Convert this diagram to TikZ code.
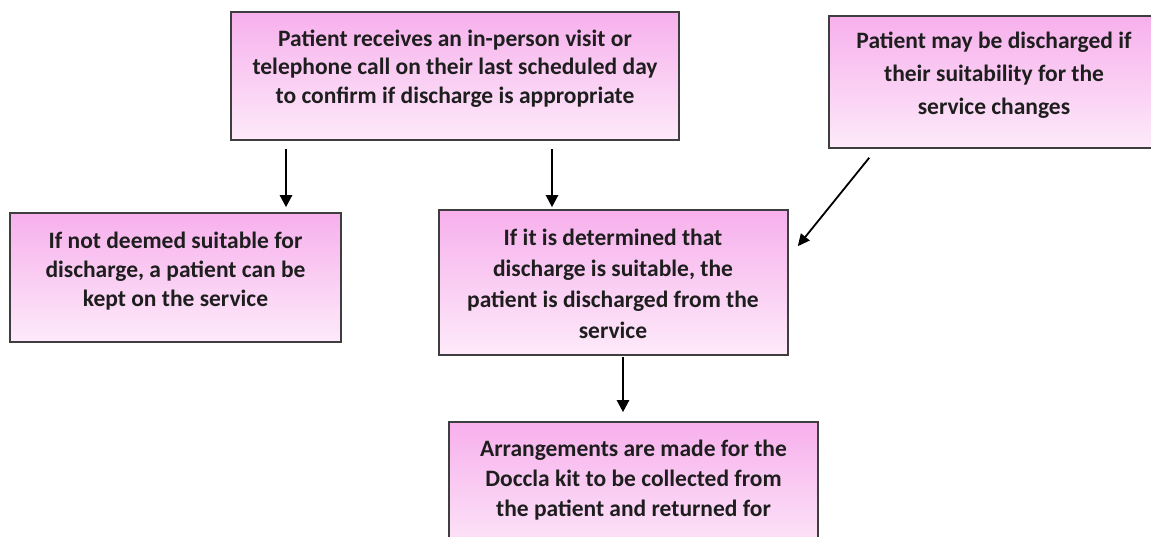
\documentclass[tikz,border=0pt]{standalone}
\usepackage{fontspec}
\setmainfont{Carlito}
\usetikzlibrary{arrows.meta,calc}
\definecolor{boxtop}{RGB}{247,176,236}
\definecolor{boxbottom}{RGB}{253,234,250}
\definecolor{boxline}{RGB}{62,62,62}
\definecolor{ink}{RGB}{30,30,30}
\tikzset{
  box/.style={draw=boxline, line width=1.6pt, top color=boxtop, bottom color=boxbottom,
    rectangle, inner sep=0pt},
  txt/.style={align=center, text=ink, inner sep=0pt,
    font=\fontsize{23.5}{29}\selectfont\bfseries},
  arr/.style={draw=black, line width=2.3pt, -{Triangle[width=12pt,length=12pt]}},
  thinarr/.style={draw=black, line width=1.8pt, -{Triangle[width=11pt,length=12pt]}}
}
\begin{document}
\begin{tikzpicture}[x=1pt, y=-1pt]
  \useasboundingbox (0,0) rectangle (1151,537);

  % boxes
  \node[box, minimum width=448pt, minimum height=128pt] (b1) at (455,76) {};
  \node[box, minimum width=331pt, minimum height=132pt] (b2) at (994.5,82) {};
  \node[box, minimum width=331pt, minimum height=129pt] (b3) at (175.5,277.5) {};
  \node[box, minimum width=349pt, minimum height=145pt] (b4) at (613.5,282.5) {};
  \node[box, minimum width=369pt, minimum height=138pt] (b5) at (633.5,491) {};

  % texts
  \node[txt, font=\fontsize{23.5}{28.5}\selectfont\bfseries] (t1) at (455,68.5)
    {Patient receives an in-person visit or\\
    telephone call on their last scheduled day\\ to confirm if discharge is appropriate};
  \node[txt, font=\fontsize{23.5}{33}\selectfont\bfseries] (t2) at (994,75)
    {Patient may be discharged if\\ their suitability for the\\ service changes};
  \node[txt] (t3) at (175.5,271) {If not deemed suitable for\\
    discharge, a patient can be\\ kept on the service};
  \node[txt, font=\fontsize{23.5}{31}\selectfont\bfseries] (t4) at (613,283.5)
    {If it is determined that\\ discharge is suitable, the\\
    patient is discharged from the\\ service};
  \node[txt, font=\fontsize{23.5}{30}\selectfont\bfseries] (t5) at (633.5,480)
    {Arrangements are made for the\\ Doccla kit to be collected from\\
    the patient and returned for};

  % connectors
  \draw[arr, shorten <=8pt, shorten >=5pt] (b1.south -| 286,0) -- (b3.north -| 286,0);
  \draw[arr, shorten <=8pt, shorten >=2pt] (b1.south -| 552,0) -- (b4.north -| 552,0);
  \draw[thinarr] ($(b2.south west)+(41,9)$) -- ($(b4.north east)+(9,37)$);
  \draw[arr, shorten <=1pt, shorten >=9pt] (b4.south -| 623,0) -- (b5.north -| 623,0);
\end{tikzpicture}
\end{document}
